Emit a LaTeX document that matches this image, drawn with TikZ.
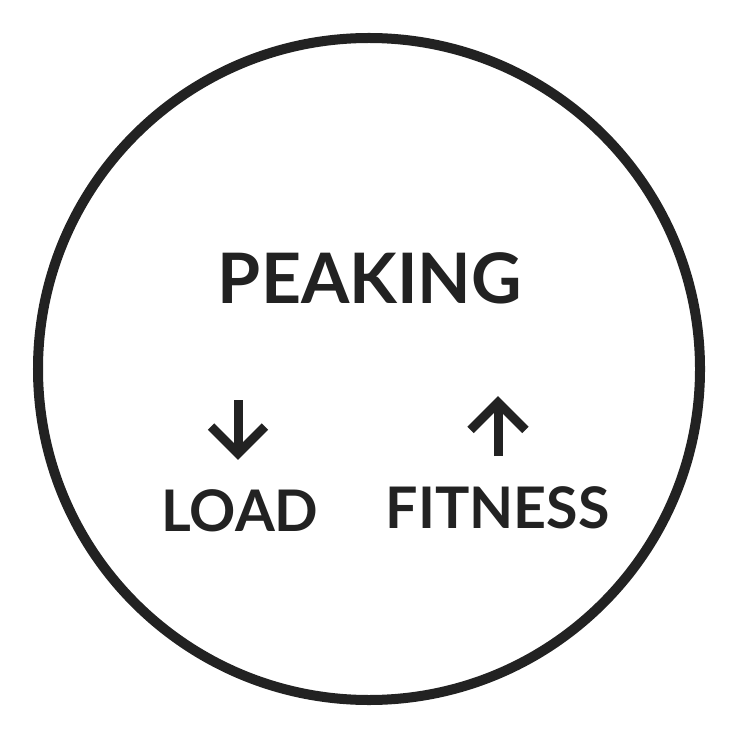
\documentclass[tikz,border=0pt]{standalone}
\usepackage{fontspec}
\newfontfamily\latofont{Lato}
\usepackage{xcolor}
\usepackage{tikz}
\usetikzlibrary{
  positioning,
  calc}
\definecolor{inkgray}{HTML}{222222}

\begin{document}
\begin{tikzpicture}[x=0.01cm,y=-0.01cm]
\tikzset{
  ring/.style={draw=inkgray, line width=10*0.2845pt},
  bigword/.style={inner sep=0pt, text=inkgray, font=\latofont\bfseries\fontsize{19.8}{24}\selectfont},
  smallword/.style={inner sep=0pt, text=inkgray, font=\latofont\bfseries\fontsize{16.3}{20}\selectfont},
  trend/.style={draw=inkgray, line width=9*0.2845pt, miter limit=10},
}
\useasboundingbox (0,0) rectangle (740,740);
\node[ring, circle, minimum size=662*0.01cm, inner sep=0pt] (dial) at (369,369) {};
\node[bigword] (peaking) at (370,278) {PEAKING};
\node[smallword] (load) at (240,511) {LOAD};
\node[smallword] (fitness) at (497.5,507.5) {FITNESS};
% arrows above the two words
\coordinate (downtip) at (238,453.6);
\coordinate (uptip) at (498,402.4);
\draw[trend] (238,400) -- (downtip);
\draw[trend, line join=miter] ($(downtip)+(-27,-27)$) -- (downtip) -- ($(downtip)+(27,-27)$);
\draw[trend] (498,456) -- (uptip);
\draw[trend, line join=miter] ($(uptip)+(-27.5,27.5)$) -- (uptip) -- ($(uptip)+(27.5,27.5)$);
\end{tikzpicture}
\end{document}
